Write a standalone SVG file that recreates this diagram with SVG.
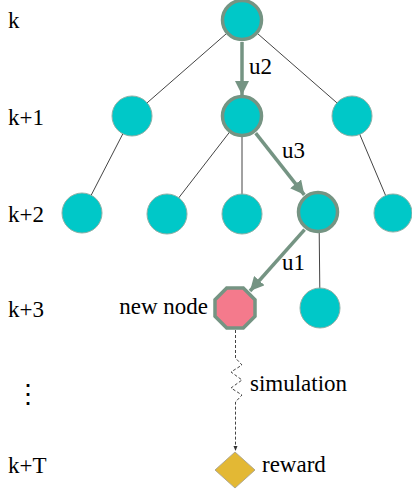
<svg xmlns="http://www.w3.org/2000/svg" width="412" height="492" viewBox="0 0 412 492">
<defs>
<style>
.t{font-family:'Liberation Serif','Times New Roman',serif;font-size:23px;fill:#000}
.n{fill:#00c8c8;stroke:#8fb0a6;stroke-width:1}
.h{fill:#00c8c8;stroke:#759483;stroke-width:3.5}
.thin{stroke:#444;stroke-width:1;fill:none}
.thick{stroke:#759483;stroke-width:3.5;fill:none;marker-end:url(#ah)}
.dash{stroke:#444;stroke-width:1;fill:none;stroke-dasharray:3,2;marker-end:url(#ah2)}
</style>
<marker id="ah" viewBox="0 0 10 10" refX="10" refY="5" markerWidth="4" markerHeight="4" orient="auto" markerUnits="strokeWidth">
<path d="M0,0 L10,5 L0,10 Z" fill="#759483"/>
</marker>
<marker id="ah2" viewBox="0 0 10 10" refX="10" refY="5" markerWidth="5" markerHeight="5" orient="auto" markerUnits="strokeWidth">
<path d="M0,1 L10,5 L0,9 Z" fill="#333"/>
</marker>
</defs>
<rect width="412" height="492" fill="#fff"/>
<g id="levels">
<text class="t" x="8" y="28">k</text>
<text class="t" x="8" y="125">k+1</text>
<text class="t" x="8" y="222">k+2</text>
<text class="t" x="8" y="317">k+3</text>
<text x="15" y="403" font-family="DejaVu Serif, serif" font-size="26">⋮</text>
<text class="t" x="8" y="473">k+T</text>
</g>
<g id="connectors">
<line class="thin" x1="242" y1="20" x2="132" y2="116"/>
<line class="thin" x1="242" y1="20" x2="352" y2="116"/>
<line class="thin" x1="132" y1="116" x2="82" y2="213"/>
<line class="thin" x1="242" y1="116" x2="167" y2="213"/>
<line class="thin" x1="242" y1="116" x2="242" y2="213"/>
<line class="thin" x1="352" y1="116" x2="393" y2="213"/>
<line class="thin" x1="319" y1="213" x2="320" y2="308"/>
<line class="thick" x1="242" y1="42" x2="242" y2="95"/>
<line class="thick" x1="255.7" y1="133.2" x2="304.3" y2="194.8"/>
<line class="thick" x1="304.6" y1="229.6" x2="250" y2="291"/>
<path class="dash" d="M235.5,330 L235.5,358 L242,365 L231,372 L242,380 L231,388 L242,395 L235.5,402 L235.5,451"/>
<text class="t" x="249" y="74">u2</text>
<text class="t" x="282" y="158">u3</text>
<text class="t" x="282" y="270">u1</text>
<text class="t" x="250" y="391">simulation</text>
</g>
<g id="n0"><circle class="h" cx="242" cy="20" r="19.5"/></g>
<g id="n1a"><circle class="n" cx="132" cy="116" r="20"/></g>
<g id="n1b"><circle class="h" cx="242" cy="116" r="19.5"/></g>
<g id="n1c"><circle class="n" cx="352" cy="116" r="20"/></g>
<g id="n2a"><circle class="n" cx="82" cy="213" r="20"/></g>
<g id="n2b"><circle class="n" cx="167" cy="214" r="20"/></g>
<g id="n2c"><circle class="n" cx="242" cy="214" r="20"/></g>
<g id="n2d"><circle class="h" cx="318" cy="212" r="19.5"/></g>
<g id="n2e"><circle class="n" cx="393" cy="213" r="19"/></g>
<g id="n3b"><circle class="n" cx="320" cy="308" r="20"/></g>
<g id="newnode">
<polygon points="226.7,288 243.3,288 255,299.7 255,316.3 243.3,328 226.7,328 215,316.3 215,299.7" fill="#f47a8c" stroke="#759483" stroke-width="3.5"/>
<text class="t" x="208" y="314" text-anchor="end">new node</text>
</g>
<g id="reward">
<polygon points="235,452 255,470 235,488 215,470" fill="#e3b834" stroke="#b0a890" stroke-width="1"/>
<text class="t" x="262" y="472">reward</text>
</g>
</svg>
